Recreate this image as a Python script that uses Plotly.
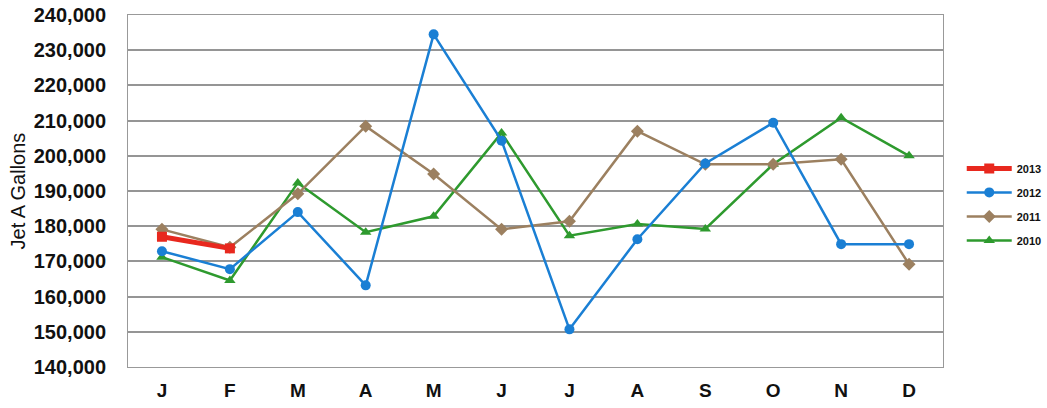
import plotly.graph_objects as go

months = ["J", "F", "M", "A", "M", "J", "J", "A", "S", "O", "N", "D"]

gallons_2010 = [171200, 164600, 192300, 178300, 182800, 206500, 177300, 180600, 179200, 197600, 210800, 200000]
gallons_2011 = [179100, 174000, 189200, 208400, 194800, 179100, 181400, 207000, 197600, 197600, 199000, 169200]
gallons_2012 = [172900, 167800, 184000, 163200, 234500, 204300, 150700, 176300, 197800, 209400, 174900, 174900]
gallons_2013 = [177000, 173700]

# name, values, colour, marker, line width, marker size, legend rank
series = [
    ("2010", gallons_2010, "#2e9a2e", "triangle-up", 2.5, 10, 4),
    ("2011", gallons_2011, "#9c8060", "diamond", 2.5, 10, 3),
    ("2012", gallons_2012, "#1a7fd4", "circle", 2.5, 10, 2),
    ("2013", gallons_2013, "#e8281e", "square", 5, 10, 1),
]

fig = go.Figure()
for name, vals, color, symbol, lw, ms, rank in series:
    fig.add_trace(go.Scatter(
        x=list(range(len(vals))),
        y=vals,
        name=name,
        legendgroup=name,
        legendrank=rank,
        mode="lines+markers",
        line=dict(color=color, width=lw),
        marker=dict(color=color, symbol=symbol, size=ms),
    ))

fig.update_layout(
    width=1047,
    height=408,
    margin=dict(l=128, r=104, t=15, b=41, autoexpand=False),
    paper_bgcolor="white",
    plot_bgcolor="white",
    font=dict(family="Liberation Sans, Arial, sans-serif", color="#111111"),
    legend=dict(
        traceorder="grouped",
        x=1.023,
        y=0.462,
        xanchor="left",
        yanchor="middle",
        font=dict(size=11, family="Liberation Sans, Arial, sans-serif", weight="bold"),
        itemwidth=45,
        tracegroupgap=5,
    ),
    xaxis=dict(
        tickmode="array",
        tickvals=list(range(12)),
        ticktext=months,
        range=[-0.5, 11.5],
        showgrid=False,
        showline=True,
        linecolor="#999999",
        linewidth=1,
        mirror=True,
        ticks="outside",
        ticklen=6,
        tickcolor="rgba(0,0,0,0)",
        tickfont=dict(size=19, weight="bold"),
        zeroline=False,
        automargin=False,
    ),
    yaxis=dict(
        range=[140000, 240000],
        dtick=10000,
        tickformat=",d",
        showgrid=True,
        gridcolor="#959595",
        gridwidth=1.6,
        showline=True,
        linecolor="#999999",
        linewidth=1,
        mirror=True,
        ticks="outside",
        ticklen=17,
        tickcolor="rgba(0,0,0,0)",
        tickfont=dict(size=20, weight="bold"),
        title=dict(text="Jet A Gallons", font=dict(size=20), standoff=2),
        zeroline=False,
        automargin=False,
    ),
)

fig.write_html("out.html")
